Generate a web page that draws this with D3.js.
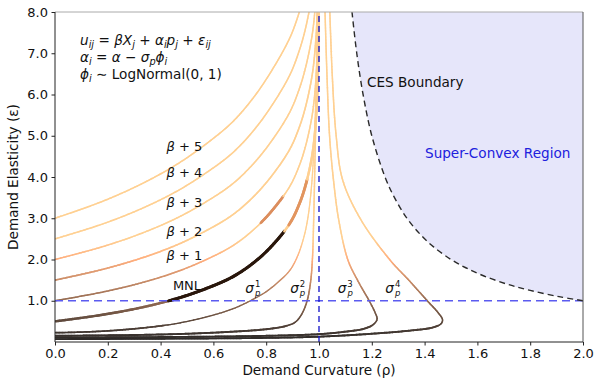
<!DOCTYPE html>
<html>
<head>
<meta charset="utf-8">
<script src="https://cdn.jsdelivr.net/npm/d3@7"></script>
<style>
  body { margin: 0; background: #fff; }
  svg { display: block; font-family: "DejaVu Sans", sans-serif; }
</style>
</head>
<body>
<svg id="chart" width="597" height="379"></svg>
<script>
// curves as [rho, epsilon] pairs
const mnl = [[0, 0.5], [0.18, 0.66], [0.33, 0.84], [0.46, 1.05], [0.57, 1.29], [0.67, 1.57], [0.75, 1.91], [0.82, 2.32], [0.89, 2.88], [0.925, 3.34], [0.947, 3.75], [0.969, 4.34], [0.98, 4.79], [0.99, 5.54], [0.995, 6.26], [0.998, 7.2], [0.999, 7.9], [0.9995, 8.6]]
const beta1 = [[0, 1.0], [0.18, 1.21], [0.33, 1.44], [0.46, 1.70], [0.57, 1.99], [0.67, 2.32], [0.75, 2.71], [0.82, 3.17], [0.89, 3.78], [0.925, 4.27], [0.947, 4.70], [0.969, 5.31], [0.98, 5.77], [0.99, 6.53], [0.995, 7.26], [0.998, 8.2]]
const beta2 = [[0, 1.5], [0.18, 1.76], [0.33, 2.04], [0.46, 2.35], [0.57, 2.69], [0.67, 3.07], [0.75, 3.51], [0.82, 4.02], [0.89, 4.68], [0.925, 5.20], [0.947, 5.65], [0.969, 6.28], [0.98, 6.75], [0.99, 7.52], [0.995, 8.25]]
const beta3 = [[0, 2.0], [0.18, 2.31], [0.33, 2.64], [0.46, 3.0], [0.57, 3.39], [0.67, 3.82], [0.75, 4.31], [0.82, 4.87], [0.89, 5.58], [0.925, 6.13], [0.947, 6.60], [0.969, 7.25], [0.98, 7.73], [0.99, 8.51]]
const beta4 = [[0, 2.5], [0.18, 2.86], [0.33, 3.24], [0.46, 3.65], [0.57, 4.09], [0.67, 4.57], [0.75, 5.11], [0.82, 5.72], [0.89, 6.48], [0.925, 7.06], [0.947, 7.55], [0.969, 8.22]]
const beta5 = [[0, 3.0], [0.18, 3.41], [0.33, 3.84], [0.46, 4.30], [0.57, 4.79], [0.67, 5.32], [0.75, 5.91], [0.82, 6.57], [0.89, 7.38], [0.925, 7.99], [0.947, 8.5]]

const sigma1 = [[0, 0.225], [0.1, 0.24], [0.2, 0.27], [0.3, 0.32], [0.4, 0.39], [0.47, 0.46], [0.55, 0.57], [0.62, 0.69], [0.68, 0.82], [0.74, 1.0], [0.8, 1.22], [0.85, 1.48], [0.89, 1.74], [0.92, 2.1], [0.945, 2.6], [0.96, 3.1], [0.972, 3.8], [0.98, 4.6], [0.986, 5.5], [0.99, 6.5], [0.994, 8.2]]
const sigma2 = [[0, 0.15], [0.3, 0.17], [0.5, 0.2], [0.7, 0.26], [0.8, 0.31], [0.87, 0.38], [0.91, 0.48], [0.935, 0.68], [0.955, 1.0], [0.968, 1.45], [0.975, 2.0], [0.98, 3.0], [0.985, 4.5], [0.99, 6.0], [0.995, 8.2]]
const sigma3 = [[0, 0.11], [0.4, 0.12], [0.8, 0.15], [1.0, 0.19], [1.1, 0.25], [1.17, 0.32], [1.205, 0.42], [1.22, 0.55], [1.212, 0.72], [1.19, 1.0], [1.15, 1.45], [1.11, 1.98], [1.075, 2.95], [1.055, 3.92], [1.04, 5.0], [1.03, 6.5], [1.022, 8.2]]
const sigma4 = [[0, 0.07], [0.4, 0.08], [0.8, 0.1], [1.0, 0.13], [1.2, 0.2], [1.35, 0.28], [1.43, 0.35], [1.462, 0.44], [1.468, 0.54], [1.45, 0.72], [1.41, 1.0], [1.34, 1.5], [1.27, 1.98], [1.16, 2.95], [1.09, 3.92], [1.065, 5.0], [1.05, 6.5], [1.04, 8.2]]

const cesBoundary = [[2.0, 1.0], [1.909, 1.1], [1.8, 1.25], [1.714, 1.4], [1.625, 1.6], [1.556, 1.8], [1.5, 2.0], [1.435, 2.3], [1.385, 2.6], [1.333, 3.0], [1.286, 3.5], [1.25, 4.0], [1.2, 5.0], [1.167, 6.0], [1.143, 7.0], [1.125, 8.0]]

const xTicks = [0, 0.2, 0.4, 0.6, 0.8, 1.0, 1.2, 1.4, 1.6, 1.8, 2.0]
const yTicks = [1, 2, 3, 4, 5, 6, 7, 8]

const betaLabels = [['β + 5', 0.49, 4.75], ['β + 4', 0.49, 4.10], ['β + 3', 0.49, 3.37], ['β + 2', 0.49, 2.67], ['β + 1', 0.49, 2.09], ['MNL', 0.50, 1.36]]
const sigmaLabels = [['1', 0.745, 1.30], ['2', 0.915, 1.30], ['3', 1.095, 1.30], ['4', 1.275, 1.30]]

const x = d3.scaleLinear().domain([0, 2]).range([55, 583])
const y = d3.scaleLinear().domain([0, 8]).range([342, 12])

const svg = d3.select('#chart')
svg.append('defs').append('clipPath').attr('id', 'plot')
  .append('rect').attr('x', 55).attr('y', 12).attr('width', 528).attr('height', 330)

const line = d3.line().x(d => x(d[0])).y(d => y(d[1])).curve(d3.curveCatmullRom)

// matplotlib copper, faded a little toward white
const copper = t => {
  t = Math.max(0, Math.min(1, t))
  return d3.rgb(255 * Math.min(1, 1.25 * t), 255 * 0.7812 * t, 255 * 0.4975 * t)
}
const shade = e => d3.interpolateRgb('#ffffff', copper(e / 2.5))(0.85)

const plot = svg.append('g').attr('clip-path', 'url(#plot)')

// super-convex region
plot.append('path')
  .attr('d', line(cesBoundary) + `L${x(2)},${y(8)}Z`)
  .attr('fill', '#e6e6fa')

const curveLayer = plot.append('g')

function drawCurve(pts, width, heavy) {
  const tmp = curveLayer.append('path').attr('d', line(pts)).attr('fill', 'none').attr('stroke', 'none')
  const node = tmp.node()
  const len = node.getTotalLength()
  const step = 1.5
  let prev = node.getPointAtLength(0)
  for (let s = step; s < len + step; s += step) {
    const cur = node.getPointAtLength(Math.min(s, len))
    const r = x.invert((prev.x + cur.x) / 2)
    const e = y.invert((prev.y + cur.y) / 2)
    let col = shade(e)
    let w = e < 0.4 ? width + 0.4 : width
    ;(heavy || []).forEach(h => {
      if (r >= h.from && r <= h.to) { col = h.color; w = h.width }
    })
    curveLayer.append('line')
      .attr('x1', prev.x).attr('y1', prev.y).attr('x2', cur.x).attr('y2', cur.y)
      .attr('stroke', col).attr('stroke-width', w).attr('stroke-linecap', 'round')
    prev = cur
  }
  tmp.remove()
}

drawCurve(beta5, 1.5)
drawCurve(beta4, 1.5)
drawCurve(beta3, 1.5)
drawCurve(beta2, 1.6)
drawCurve(beta1, 1.5, [{ from: 0.78, to: 0.865, color: '#dc8e5e', width: 2.6 }])
drawCurve(sigma4, 1.5)
drawCurve(sigma3, 1.5)
drawCurve(sigma2, 1.5)
drawCurve(sigma1, 1.3)
drawCurve(mnl, 2.4, [
  { from: 0.43, to: 0.87, color: '#2a170c', width: 3 },
  { from: 0.885, to: 0.955, color: '#e2955f', width: 2.8 }
])

// reference lines
plot.append('line')
  .attr('x1', x(0)).attr('x2', x(2)).attr('y1', y(1)).attr('y2', y(1))
  .attr('stroke', '#5b5bf0').attr('stroke-width', 1.6).attr('stroke-dasharray', '8,5')
plot.append('line')
  .attr('x1', x(1)).attr('x2', x(1)).attr('y1', y(0)).attr('y2', y(8))
  .attr('stroke', '#1010c8').attr('stroke-width', 1.3).attr('stroke-dasharray', '6,4')
plot.append('path')
  .attr('d', line(cesBoundary))
  .attr('fill', 'none').attr('stroke', '#2a2a2a').attr('stroke-width', 1.4).attr('stroke-dasharray', '6,4')

// annotations
const ann = svg.append('g').attr('font-size', 13.6).attr('fill', '#111')
ann.append('text').attr('x', 367).attr('y', 87).text('CES Boundary')
ann.append('text').attr('x', 425).attr('y', 158).attr('fill', '#2020dd').text('Super-Convex Region')

function mathText(x0, y0, parts) {
  const t = ann.append('text').attr('x', x0).attr('y', y0).style('white-space', 'pre')
  let shift = 0
  parts.forEach(([s, kind]) => {
    const sp = t.append('tspan').text(s)
    const target = kind === 'sub' ? 3 : 0
    sp.attr('dy', target - shift)
    shift = target
    if (kind !== 'n') sp.attr('font-style', 'italic')
    if (kind === 'sub') sp.attr('font-size', 9.8)
  })
}
mathText(80, 45, [['u', 'i'], ['ij', 'sub'], [' = ', 'n'], ['βX', 'i'], ['j', 'sub'], [' + ', 'n'], ['α', 'i'], ['i', 'sub'], ['p', 'i'], ['j', 'sub'], [' + ', 'n'], ['ε', 'i'], ['ij', 'sub']])
mathText(80, 62, [['α', 'i'], ['i', 'sub'], [' = ', 'n'], ['α', 'i'], [' − ', 'n'], ['σ', 'i'], ['p', 'sub'], ['ϕ', 'i'], ['i', 'sub']])
mathText(80, 79, [['ϕ', 'i'], ['i', 'sub'], [' ∼ LogNormal(0, 1)', 'n']])

betaLabels.forEach(([txt, r, e]) => {
  const t = ann.append('text').attr('x', x(r)).attr('y', y(e) + 4.5).attr('text-anchor', 'middle')
    .attr('font-size', 13).style('white-space', 'pre')
  if (txt === 'MNL') t.text(txt)
  else {
    t.append('tspan').attr('font-style', 'italic').text('β')
    t.append('tspan').text(txt.slice(1))
  }
})

sigmaLabels.forEach(([k, r, e]) => {
  const cx = x(r), cy = y(e)
  ann.append('text').attr('x', cx - 2).attr('y', cy + 4.5).attr('text-anchor', 'middle')
    .attr('font-style', 'italic').text('σ')
  ann.append('text').attr('x', cx + 6).attr('y', cy - 1).attr('font-size', 8.5).attr('text-anchor', 'middle').text(k)
  ann.append('text').attr('x', cx + 6).attr('y', cy + 8).attr('font-size', 8.5).attr('text-anchor', 'middle')
    .attr('font-style', 'italic').text('p')
})

// axes
const fmt = d3.format('.1f')
const gx = svg.append('g').attr('transform', `translate(0,${y(0)})`)
  .call(d3.axisBottom(x).tickValues(xTicks).tickFormat(fmt).tickSize(3.5).tickPadding(3.5))
const gy = svg.append('g').attr('transform', `translate(${x(0)},0)`)
  .call(d3.axisLeft(y).tickValues(yTicks).tickFormat(fmt).tickSize(3.5).tickPadding(3.5))
;[gx, gy].forEach(g => {
  g.attr('font-size', 13).attr('font-family', '"DejaVu Sans", sans-serif')
  g.selectAll('text').attr('fill', '#111')
  g.selectAll('line').attr('stroke', '#222')
  g.select('.domain').remove()
})

// spines
svg.append('line').attr('x1', 55).attr('x2', 583).attr('y1', 12).attr('y2', 12).attr('stroke', '#aaa').attr('stroke-width', 1)
svg.append('line').attr('x1', 583).attr('x2', 583).attr('y1', 12).attr('y2', 342).attr('stroke', '#555').attr('stroke-width', 1)
svg.append('line').attr('x1', 55).attr('x2', 583).attr('y1', 342).attr('y2', 342).attr('stroke', '#222').attr('stroke-width', 1)
svg.append('line').attr('x1', 55).attr('x2', 55).attr('y1', 12).attr('y2', 342).attr('stroke', '#222').attr('stroke-width', 1)

svg.append('text').attr('x', 319).attr('y', 375).attr('text-anchor', 'middle').attr('font-size', 13.6)
  .attr('fill', '#111').text('Demand Curvature (ρ)')
svg.append('text').attr('transform', 'translate(18,177) rotate(-90)').attr('text-anchor', 'middle').attr('font-size', 13.6)
  .attr('fill', '#111').text('Demand Elasticity (ε)')
</script>
</body>
</html>
